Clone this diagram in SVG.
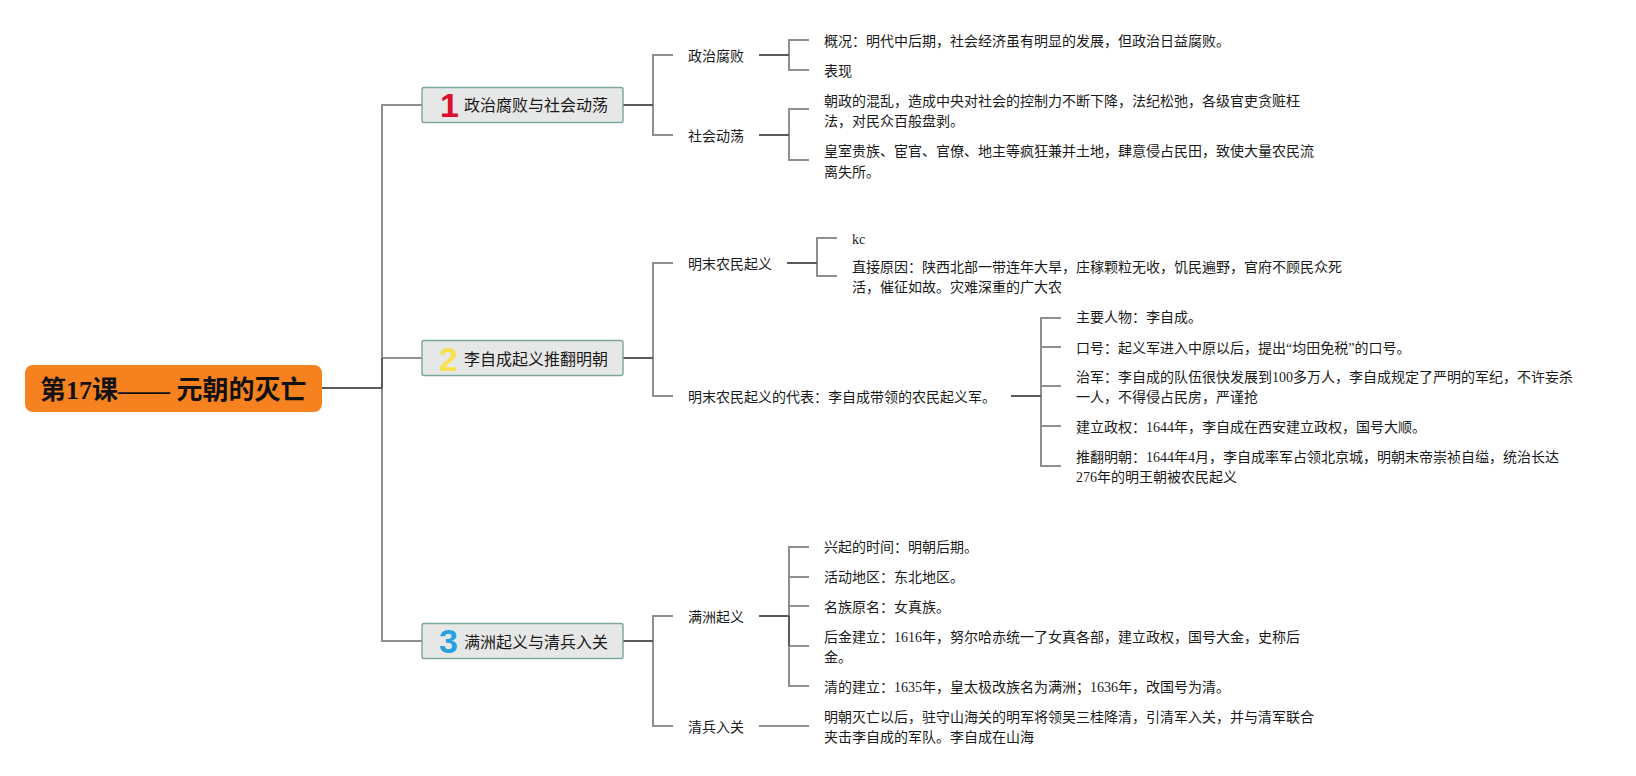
<svg xmlns="http://www.w3.org/2000/svg" width="1636" height="776" viewBox="0 0 1636 776">
<style>
text{font-family:"Liberation Serif","Noto Sans CJK SC",serif;font-size:14px;fill:#1a1a1a}
.root{fill:#f6821f}
.rt{font-size:26px;font-weight:700;fill:#111}
.box{fill:#e6e8e8;stroke:#7ba899;stroke-width:1.4}
.bt{font-size:16px}
.num{font-family:"Liberation Sans",sans-serif;font-size:34px;font-weight:700}
.c{fill:none;stroke:#8f8f8f;stroke-width:2}
.d{fill:none;stroke:#5a5a5a;stroke-width:2}
</style>
<g id="connectors">
<path class="c" d="M422 105H382V641H422M382 358H422"/>
<path class="d" d="M322 388H382M382 358V388"/>
<path class="c" d="M673 55H653V135H673"/><path class="d" d="M623 105H653"/>
<path class="c" d="M809 40H789V70H809"/><path class="d" d="M759 55H789"/>
<path class="c" d="M809 109H789V160H809"/><path class="d" d="M759 135H789"/>
<path class="c" d="M673 263H653V396H673"/><path class="d" d="M623 358H653"/>
<path class="c" d="M837 238H817V276H837"/><path class="d" d="M787 263H817"/>
<path class="c" d="M1061 318H1041V466H1061M1041 347H1061M1041 386H1061M1041 426H1061"/><path class="d" d="M1011 396H1041"/>
<path class="c" d="M673 616H653V726H673"/><path class="d" d="M623 641H653"/>
<path class="c" d="M809 547H789V686H809M789 577H809M789 606H809M789 646H809"/><path class="d" d="M759 616H789M789 616V646"/>
<path class="c" d="M759 726H809"/>
</g>
<g id="root"><rect class="root" x="25" y="365" width="297" height="47" rx="8"/><text class="rt" x="40" y="399">第17课—— 元朝的灭亡</text></g>
<g id="n1"><rect class="box" x="422" y="87.500" width="201" height="35" rx="2"/><text class="num" x="440" y="117" style="fill:#d9112f">1</text><text class="bt" x="464" y="111">政治腐败与社会动荡</text></g>
<g id="n2"><rect class="box" x="422" y="340.500" width="201" height="35" rx="2"/><text class="num" x="439" y="371" style="fill:#f8e04f">2</text><text class="bt" x="464" y="365">李自成起义推翻明朝</text></g>
<g id="n3"><rect class="box" x="422" y="623.500" width="201" height="35" rx="2"/><text class="num" x="439" y="653" style="fill:#27a0df">3</text><text class="bt" x="464" y="648">满洲起义与清兵入关</text></g>
<g id="a1"><text x="688" y="61">政治腐败</text></g>
<g id="a2"><text x="688" y="141">社会动荡</text></g>
<g id="b1"><text x="824" y="46">概况：明代中后期，社会经济虽有明显的发展，但政治日益腐败。</text></g>
<g id="b2"><text x="824" y="76">表现</text></g>
<g id="b3"><text x="824" y="106">朝政的混乱，造成中央对社会的控制力不断下降，法纪松弛，各级官吏贪赃枉</text><text x="824" y="126">法，对民众百般盘剥。</text></g>
<g id="b4"><text x="824" y="156">皇室贵族、宦官、官僚、地主等疯狂兼并土地，肆意侵占民田，致使大量农民流</text><text x="824" y="177">离失所。</text></g>
<g id="a3"><text x="688" y="269">明末农民起义</text></g>
<g id="c1"><text x="852" y="244">kc</text></g>
<g id="c2"><text x="852" y="272">直接原因：陕西北部一带连年大旱，庄稼颗粒无收，饥民遍野，官府不顾民众死</text><text x="852" y="292">活，催征如故。灾难深重的广大农</text></g>
<g id="a4"><text x="688" y="402">明末农民起义的代表：李自成带领的农民起义军。</text></g>
<g id="d1"><text x="1076" y="322">主要人物：李自成。</text></g>
<g id="d2"><text x="1076" y="353">口号：起义军进入中原以后，提出“均田免税”的口号。</text></g>
<g id="d3"><text x="1076" y="382">治军：李自成的队伍很快发展到100多万人，李自成规定了严明的军纪，不许妄杀</text><text x="1076" y="402">一人，不得侵占民房，严谨抢</text></g>
<g id="d4"><text x="1076" y="432">建立政权：1644年，李自成在西安建立政权，国号大顺。</text></g>
<g id="d5"><text x="1076" y="462">推翻明朝：1644年4月，李自成率军占领北京城，明朝末帝崇祯自缢，统治长达</text><text x="1076" y="482">276年的明王朝被农民起义</text></g>
<g id="a5"><text x="688" y="622">满洲起义</text></g>
<g id="a6"><text x="688" y="732">清兵入关</text></g>
<g id="e1"><text x="824" y="552">兴起的时间：明朝后期。</text></g>
<g id="e2"><text x="824" y="582">活动地区：东北地区。</text></g>
<g id="e3"><text x="824" y="612">名族原名：女真族。</text></g>
<g id="e4"><text x="824" y="642">后金建立：1616年，努尔哈赤统一了女真各部，建立政权，国号大金，史称后</text><text x="824" y="662">金。</text></g>
<g id="e5"><text x="824" y="692">清的建立：1635年，皇太极改族名为满洲；1636年，改国号为清。</text></g>
<g id="e6"><text x="824" y="722">明朝灭亡以后，驻守山海关的明军将领吴三桂降清，引清军入关，并与清军联合</text><text x="824" y="742">夹击李自成的军队。李自成在山海</text></g>
</svg>
